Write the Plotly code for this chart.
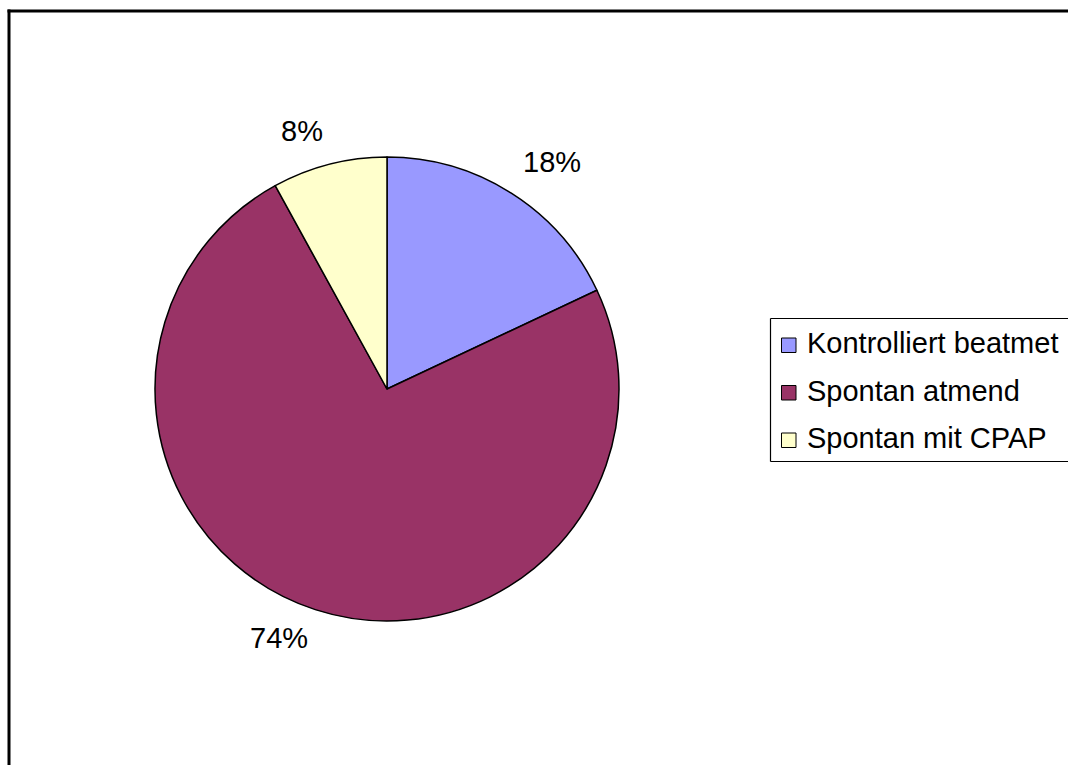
import math
import plotly.graph_objects as go

# Ventilation mode shares (percent)
categories = ["Kontrolliert beatmet", "Spontan atmend", "Spontan mit CPAP"]
shares = [18, 74, 8]
colors = ["#9999FF", "#993366", "#FFFFCC"]

W, H = 1068, 765
FONT = "Liberation Sans, Arial, sans-serif"

# pie geometry in pixels
cx, cy, R = 387, 389, 232


def px_x(x):
    return x / W


def px_y(y):
    return 1 - y / H


def hline(x0, x1, y, width):
    fig.add_shape(type="line", xref="paper", yref="paper",
                  x0=px_x(x0), x1=px_x(x1), y0=px_y(y), y1=px_y(y),
                  line=dict(color="black", width=width))


def vline(x, y0, y1, width):
    fig.add_shape(type="line", xref="paper", yref="paper",
                  x0=px_x(x), x1=px_x(x), y0=px_y(y0), y1=px_y(y1),
                  line=dict(color="black", width=width))


fig = go.Figure(
    go.Pie(
        labels=categories,
        values=shares,
        sort=False,
        direction="clockwise",
        rotation=0,
        marker=dict(colors=colors, line=dict(color="black", width=1.5)),
        textinfo="none",
        hoverinfo="label+percent",
        showlegend=False,
        domain=dict(x=[px_x(cx - R), px_x(cx + R)],
                    y=[px_y(cy + R), px_y(cy - R)]),
    )
)

# percentage labels placed just outside each slice, anchored by quadrant
total = sum(shares)
label_r = R + 20
cum = 0.0
for v in shares:
    mid = (cum + v / 2) / total * 2 * math.pi
    cum += v
    s, c = math.sin(mid), math.cos(mid)
    upper = c > 0
    fig.add_annotation(
        x=px_x(cx + label_r * s), y=px_y(cy - label_r * c),
        xref="paper", yref="paper",
        text=f"{round(v / total * 100)}%", showarrow=False,
        xanchor="left" if s > 0 else "right",
        yanchor="bottom" if upper else "top",
        yshift=-3 if upper else 8,
        font=dict(family=FONT, size=29, color="black"),
        borderpad=0,
    )

# outer chart frame: top and left edges (the rest lies past the page)
hline(7.5, W + 10, 11, 3)
vline(9, 9.5, H + 10, 3)

# legend box (open on the right, where it runs off the page)
lg_left, lg_top, lg_bottom = 770.5, 318.5, 461.5
hline(lg_left, W + 10, lg_top, 1.2)
hline(lg_left, W + 10, lg_bottom, 1.2)
vline(lg_left, lg_top, lg_bottom, 1.2)

row_y = [343, 390.5, 438]
for name, col, ry in zip(categories, colors, row_y):
    fig.add_shape(type="rect", xref="paper", yref="paper",
                  x0=px_x(781.5), x1=px_x(796), y0=px_y(ry + 9.5), y1=px_y(ry - 5),
                  line=dict(color="black", width=1), fillcolor=col)
    fig.add_annotation(x=px_x(806), y=px_y(ry), xref="paper", yref="paper",
                       text=name, showarrow=False, xanchor="left",
                       yanchor="middle", borderpad=0,
                       font=dict(family=FONT, size=29, color="black"))

fig.update_layout(
    width=W, height=H,
    margin=dict(l=0, r=0, t=0, b=0),
    paper_bgcolor="white", plot_bgcolor="white",
    showlegend=False,
)

fig.write_html("out.html")
